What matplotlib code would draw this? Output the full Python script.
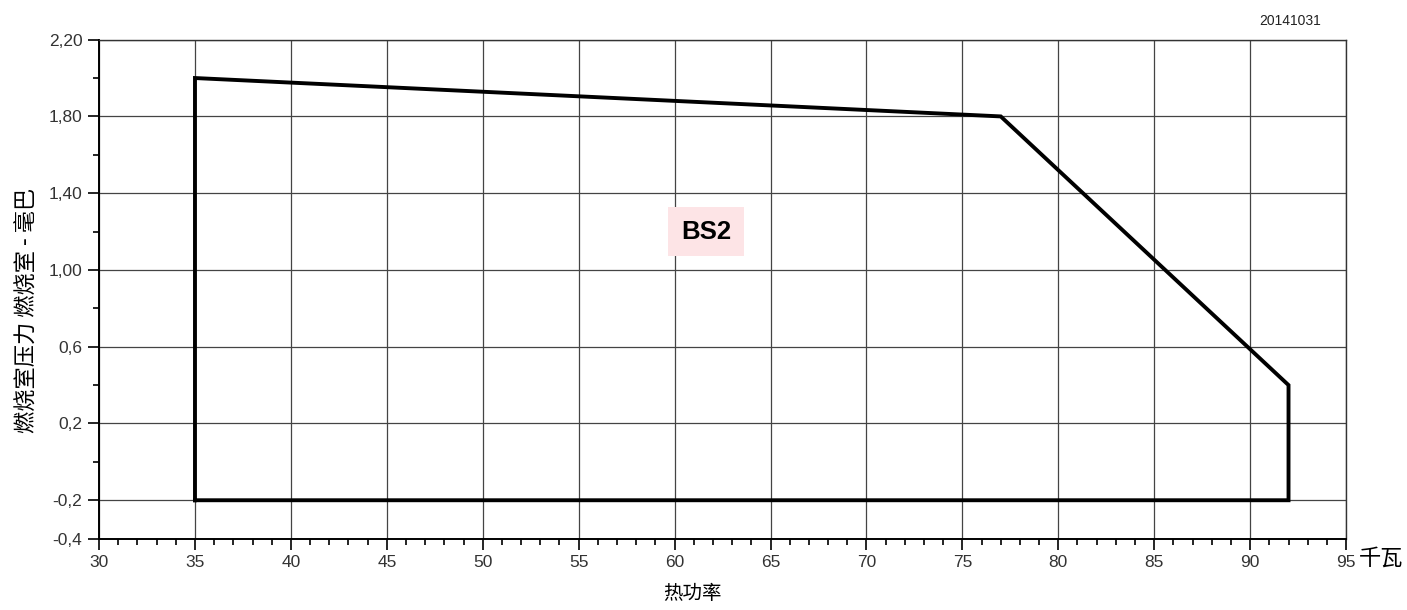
import matplotlib
matplotlib.use("Agg")
import matplotlib.pyplot as plt
from matplotlib import font_manager
from matplotlib.ticker import MultipleLocator, FixedLocator

# Data
power_kw = [35, 35, 77, 92, 92, 35]
pressure_mbar = [-0.2, 2.0, 1.8, 0.4, -0.2, -0.2]
y_ticks = [-0.4, -0.2, 0.2, 0.6, 1.0, 1.4, 1.8, 2.2]
y_tick_labels = ["-0,4", "-0,2", "0,2", "0,6", "1,00", "1,40", "1,80", "2,20"]
x_ticks = [30, 35, 40, 45, 50, 55, 60, 65, 70, 75, 80, 85, 90, 95]
label_text = "BS2"
label_pos = (61.65, 1.2)

names = {f.name for f in font_manager.fontManager.ttflist}
narrow = "Liberation Sans Narrow" if "Liberation Sans Narrow" in names else "Liberation Sans"
cjk = ["Noto Sans CJK SC", "DejaVu Sans"]

fig = plt.figure(figsize=(14.07, 6.10), dpi=100)
ax = fig.add_axes([0.0704, 0.117, 0.8863, 0.818])

ax.plot(power_kw, pressure_mbar, color="black", lw=2.8, solid_joinstyle="miter", zorder=3)

ax.set_xlim(30, 95)
ax.set_ylim(-0.4, 2.2)
ax.xaxis.set_major_locator(FixedLocator(x_ticks))
ax.xaxis.set_minor_locator(MultipleLocator(1))
ax.yaxis.set_major_locator(FixedLocator(y_ticks))
ax.yaxis.set_minor_locator(FixedLocator([0.0, 0.4, 0.8, 1.2, 1.6, 2.0]))
ax.set_yticklabels(y_tick_labels)
ax.set_xticklabels([str(v) for v in x_ticks])

ax.grid(True, which="major", color="#444444", lw=0.9)
ax.tick_params(which="major", direction="out", length=8, width=1.2, labelsize=12.5,
               colors="black", pad=4)
ax.tick_params(which="minor", direction="out", length=4, width=1.2)
for lbl in ax.get_xticklabels() + ax.get_yticklabels():
    lbl.set_fontfamily(narrow)
    lbl.set_color("#333333")
for s in ["left", "bottom"]:
    ax.spines[s].set_linewidth(1.4)
for s in ["top", "right"]:
    ax.spines[s].set_linewidth(1.0)
    ax.spines[s].set_color("#333333")

ax.text(label_pos[0], label_pos[1], label_text, fontsize=18.5, fontfamily="Liberation Sans",
        fontweight="bold", ha="center", va="center", zorder=4,
        bbox=dict(boxstyle="square,pad=0.5", fc="#fde4e6", ec="none"))

fig.text(0.019, 0.492, "燃烧室压力 燃烧室 - 毫巴", rotation=90, ha="center", va="center",
         fontsize=16, family=cjk)
fig.text(0.9655, 0.085, "千瓦", ha="left", va="center", fontsize=16, family=cjk)
fig.text(0.492, 0.027, "热功率", ha="center", va="center", fontsize=14, family=cjk)
fig.text(0.917, 0.965, "20141031", ha="center", va="center", fontsize=10,
         fontfamily="Liberation Sans", color="#222222")

fig.savefig("out.png", dpi=100)
